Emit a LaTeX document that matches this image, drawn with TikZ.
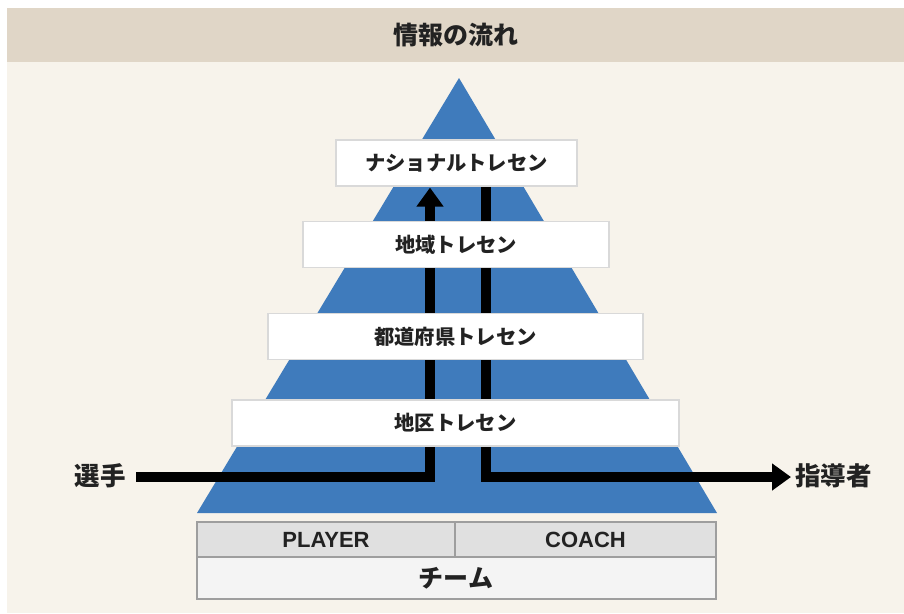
\documentclass[tikz,border=0pt]{standalone}
\usepackage{fontspec}
\newfontfamily\jp{Noto Sans CJK JP}
\newfontfamily\lat{Liberation Sans}
\usetikzlibrary{arrows.meta,backgrounds}
\definecolor{cream}{HTML}{F7F3EB}
\definecolor{headbg}{HTML}{E0D6C7}
\definecolor{pyblue}{HTML}{3F7BBC}
\definecolor{boxline}{HTML}{D9D9D9}
\definecolor{tabline}{HTML}{9E9E9E}
\definecolor{tabtop}{HTML}{E0E0E0}
\definecolor{tabbot}{HTML}{F4F4F4}
\definecolor{ink}{HTML}{222222}
\tikzset{
  level/.style={draw=boxline, line width=1.2pt, fill=white, minimum height=46pt, inner sep=0pt,
    text=ink, font=\jp\bfseries\fontsize{20.3pt}{24pt}\selectfont},
  tabcell/.style={draw=tabline, line width=2pt, inner sep=0pt, text=ink},
  flow/.style={line width=9.5pt, draw=black},
  sidelabel/.style={text=ink, font=\jp\bfseries\fontsize{25.5pt}{28pt}\selectfont}
}
\begin{document}
\begin{tikzpicture}[x=1pt,y=-1pt]
\useasboundingbox (0,0) rectangle (904,613);
\begin{scope}[on background layer]
  \fill[white] (0,0) rectangle (904,613);
  \fill[cream] (7,8) rectangle (904,613);
  \fill[headbg] (7,8) rectangle (904,62);
  \fill[pyblue] (459,78) -- (717,513) -- (197,513) -- cycle;
\end{scope}
\node[text=ink, font=\jp\bfseries\fontsize{25pt}{28pt}\selectfont] (title) at (456,35) {情報の流れ};

\node[level, minimum width=241pt] (nat) at (456.5,163) {ナショナルトレセン};
\node[level, minimum width=306pt] (reg) at (456,244.5) {地域トレセン};
\node[level, minimum width=375pt] (pref) at (455.5,336.5) {都道府県トレセン};
\node[level, minimum width=447pt] (dist) at (455.5,423) {地区トレセン};

\node[tabcell, fill=tabtop, minimum width=258pt, minimum height=35pt,
      font=\lat\bfseries\fontsize{22pt}{26pt}\selectfont] (player) at (326,539.5) {PLAYER};
\node[tabcell, fill=tabtop, minimum width=261pt, minimum height=35pt,
      font=\lat\bfseries\fontsize{22pt}{26pt}\selectfont] (coach) at (585.5,539.5) {COACH};
\node[tabcell, fill=tabbot, minimum width=519pt, minimum height=42pt,
      font=\jp\bfseries\fontsize{25pt}{28pt}\selectfont] (team) at (456,578) {チーム};

\node[sidelabel] (player-lbl) at (100,476) {選手};
\node[sidelabel] (coach-lbl) at (833.5,476) {指導者};

\coordinate (pstart) at (136,477);
\coordinate (cend) at (791,477);
\begin{scope}[on background layer]
  \draw[flow, -{Triangle[width=26pt,length=19pt]}]
    (pstart) -| ([xshift=-26.5pt,yshift=-1pt]nat.south);
  \draw[flow, -{Triangle[width=26pt,length=19pt]}]
    ([xshift=29.5pt]nat.south) |- (cend);
\end{scope}
\end{tikzpicture}
\end{document}
